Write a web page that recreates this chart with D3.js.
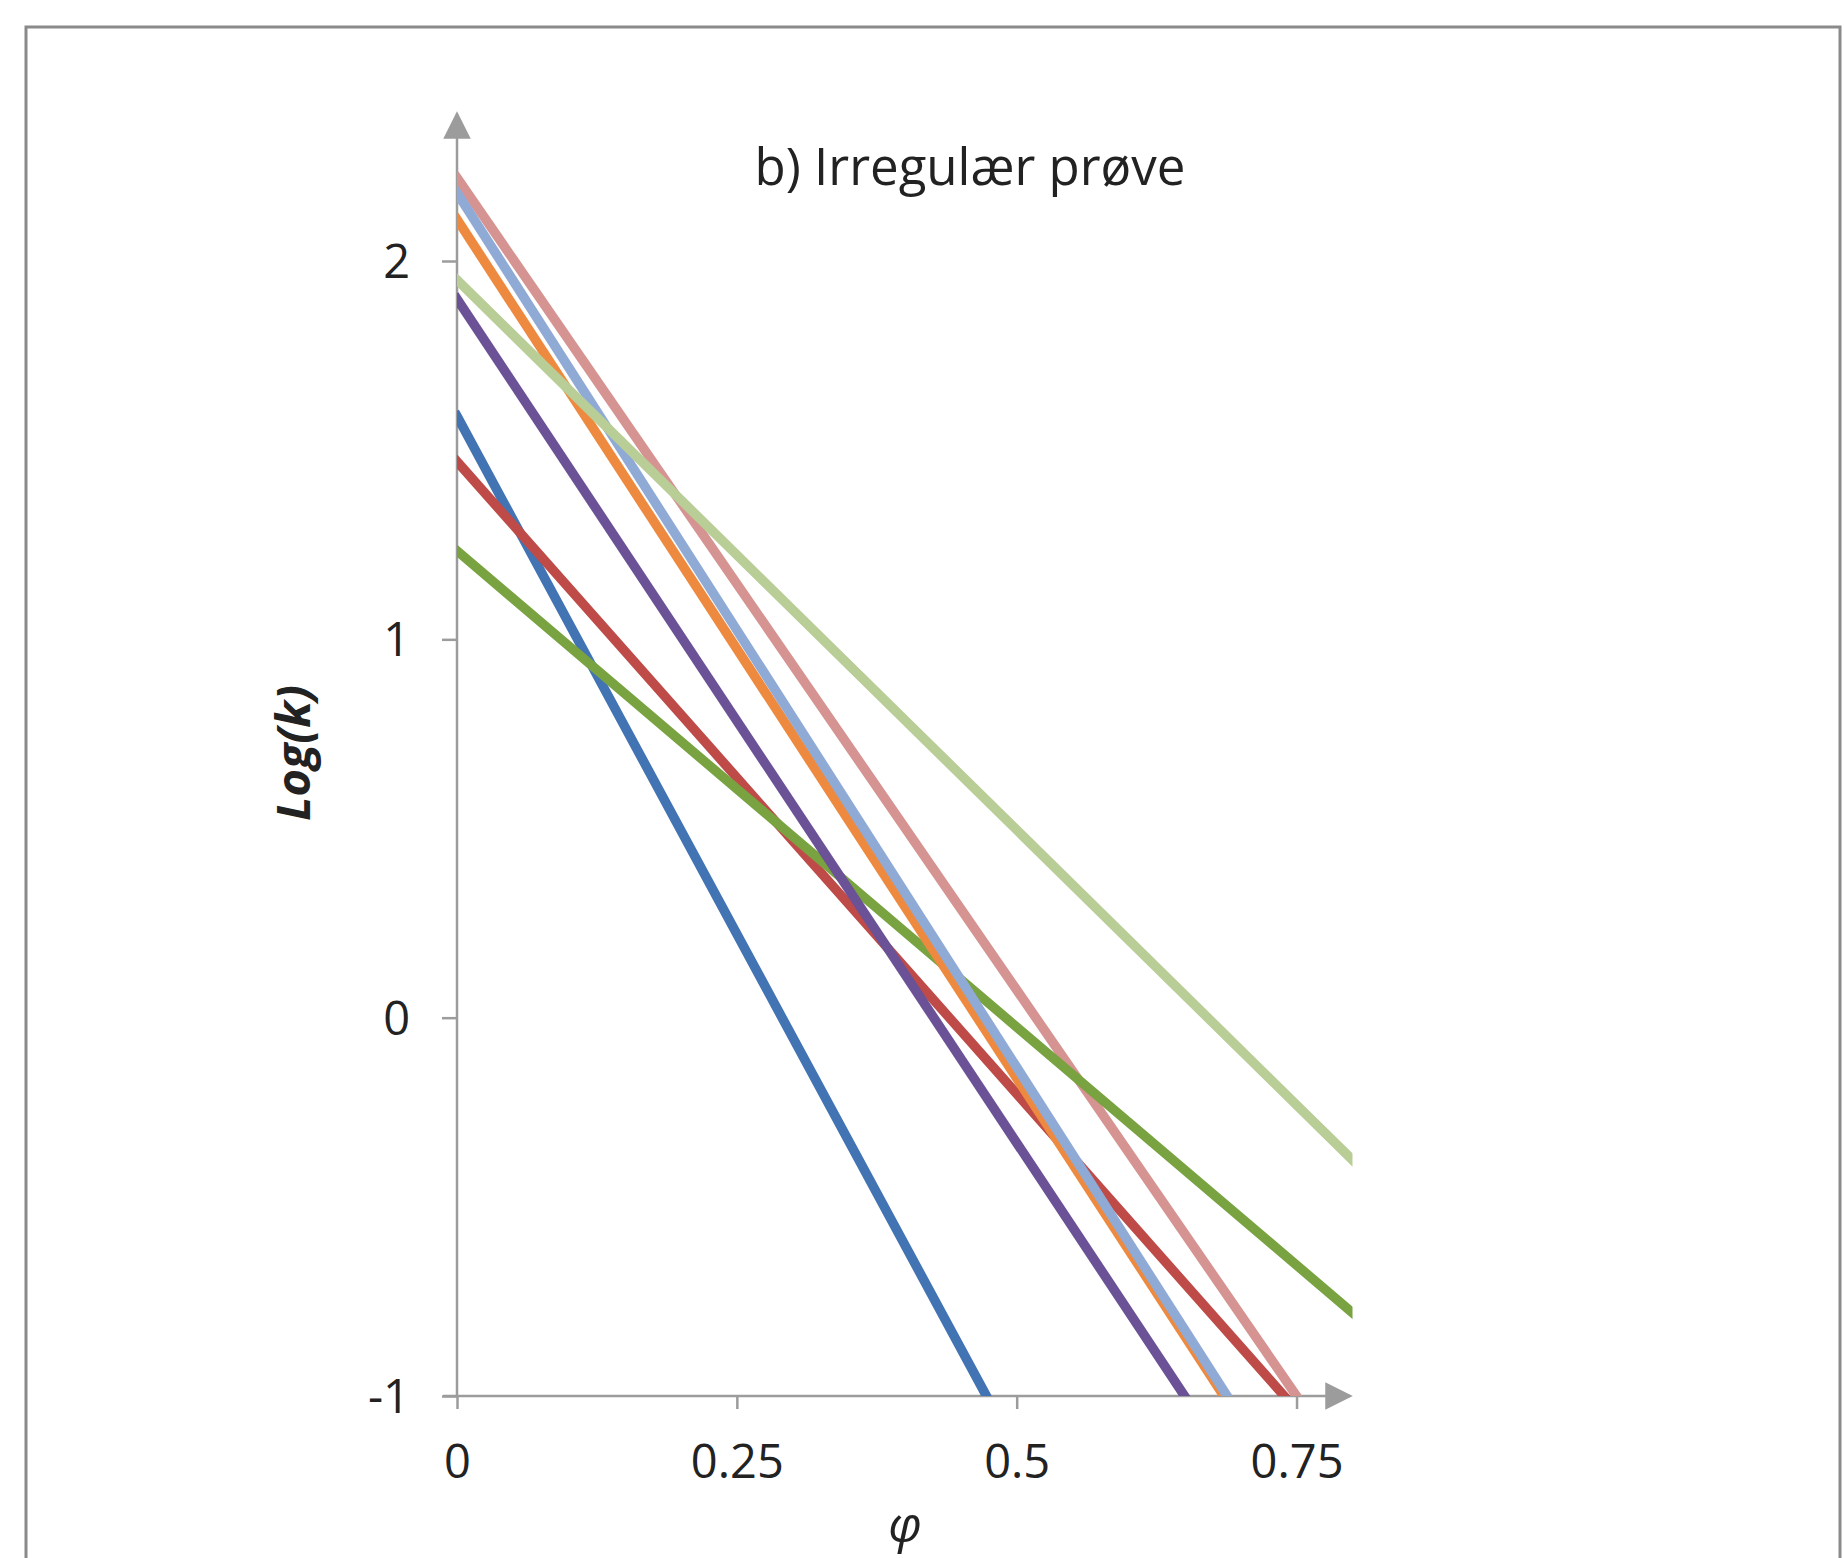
<!DOCTYPE html>
<html>
<head>
<meta charset="utf-8">
<script src="https://cdn.jsdelivr.net/npm/d3@7"></script>
<style>
  html, body { margin: 0; padding: 0; background: #fff; }
  svg { display: block; }
  text { font-family: "Open Sans", "DejaVu Sans", sans-serif; fill: #222; }
</style>
</head>
<body>
<svg id="chart"></svg>
<script>
// data: [phi, log(k)] start and end of each line
const seriesNames = ['s1', 's2', 's3', 's4', 's5', 's6', 's7', 's8'];
const seriesColors = ['#4273b3', '#be4b48', '#d59391', '#79a241', '#6b5196', '#ee8a3f', '#90aad6', '#b9cd97'];
const seriesPoints = [
  [[0, 1.59], [0.473, -1]],
  [[0, 1.47], [0.739, -1]],
  [[0, 2.22], [0.75, -1]],
  [[0, 1.234], [0.8, -0.78]],
  [[0, 1.90], [0.65, -1]],
  [[0, 2.11], [0.685, -1]],
  [[0, 2.18], [0.688, -1]],
  [[0, 1.95], [0.8, -0.376]]
];
const xTicks = [0, 0.25, 0.5, 0.75];
const xTickLabels = ['0', '0.25', '0.5', '0.75'];
const yTicks = [-1, 0, 1, 2];
const yTickLabels = ['-1', '0', '1', '2'];
const titleText = 'b) Irregulær prøve';

const width = 1844, height = 1558;
const axisGrey = '#9c9c9c';

const svg = d3.select('#chart')
  .attr('width', width)
  .attr('height', height);

// outer frame
svg.append('rect')
  .attr('x', 26).attr('y', 27)
  .attr('width', 1814).attr('height', 1600)
  .attr('fill', 'none')
  .attr('stroke', '#8a8a8a')
  .attr('stroke-width', 3);

const xScale = d3.scaleLinear().domain([0, 0.8]).range([457, 1352.5]);
const yScale = d3.scaleLinear().domain([-1, 2]).range([1396, 261]);

const defs = svg.append('defs');
defs.append('clipPath').attr('id', 'plotClip')
  .append('rect')
  .attr('x', xScale(0)).attr('y', 0)
  .attr('width', xScale(0.8) - xScale(0))
  .attr('height', yScale(-1));

defs.append('marker')
  .attr('id', 'arrow')
  .attr('viewBox', '0 0 10 10')
  .attr('refX', 9).attr('refY', 5)
  .attr('markerWidth', 11).attr('markerHeight', 11)
  .attr('markerUnits', 'strokeWidth')
  .attr('orient', 'auto')
  .append('path')
  .attr('d', 'M0,0 L10,5 L0,10 Z')
  .attr('fill', axisGrey);

// axes
const yAxis = d3.axisLeft(yScale)
  .tickValues(yTicks)
  .tickSize(15)
  .tickPadding(32)
  .tickFormat((d, i) => yTickLabels[i]);

const gy = svg.append('g')
  .attr('transform', `translate(${xScale(0)},0)`)
  .call(yAxis);

const xAxis = d3.axisBottom(xScale)
  .tickValues(xTicks)
  .tickSize(13)
  .tickPadding(36)
  .tickFormat((d, i) => xTickLabels[i]);

const gx = svg.append('g')
  .attr('transform', `translate(0,${yScale(-1)})`)
  .call(xAxis);

[gx, gy].forEach(g => {
  g.select('.domain').remove();
  g.selectAll('line').attr('stroke', axisGrey).attr('stroke-width', 2.5);
  g.selectAll('text').attr('font-size', 47).attr('fill', '#222');
});
gy.selectAll('text').attr('dy', '0.35em');

svg.append('line')
  .attr('x1', xScale(0)).attr('y1', yScale(-1) + 1)
  .attr('x2', xScale(0)).attr('y2', 114)
  .attr('stroke', axisGrey).attr('stroke-width', 2.5)
  .attr('marker-end', 'url(#arrow)');

svg.append('line')
  .attr('x1', xScale(0) - 14).attr('y1', yScale(-1))
  .attr('x2', 1350).attr('y2', yScale(-1))
  .attr('stroke', axisGrey).attr('stroke-width', 2.5)
  .attr('marker-end', 'url(#arrow)');

// series
const line = d3.line()
  .x(d => xScale(d[0]))
  .y(d => yScale(d[1]));

svg.append('g')
  .attr('clip-path', 'url(#plotClip)')
  .selectAll('path')
  .data(seriesPoints)
  .join('path')
  .attr('d', d => line(d))
  .attr('fill', 'none')
  .attr('stroke', (d, i) => seriesColors[i])
  .attr('stroke-width', 9.5)
  .attr('stroke-linecap', 'square');

// labels
svg.append('text')
  .attr('x', 970).attr('y', 185)
  .attr('text-anchor', 'middle')
  .attr('font-size', 51)
  .text(titleText);

svg.append('text')
  .attr('transform', 'translate(310,753) rotate(-90)')
  .attr('text-anchor', 'middle')
  .attr('font-size', 47)
  .attr('font-weight', 'bold')
  .attr('font-style', 'italic')
  .text('Log(k)');

svg.append('text')
  .attr('x', 905).attr('y', 1542)
  .attr('text-anchor', 'middle')
  .attr('font-size', 50)
  .attr('font-style', 'italic')
  .text('φ');
</script>
</body>
</html>
